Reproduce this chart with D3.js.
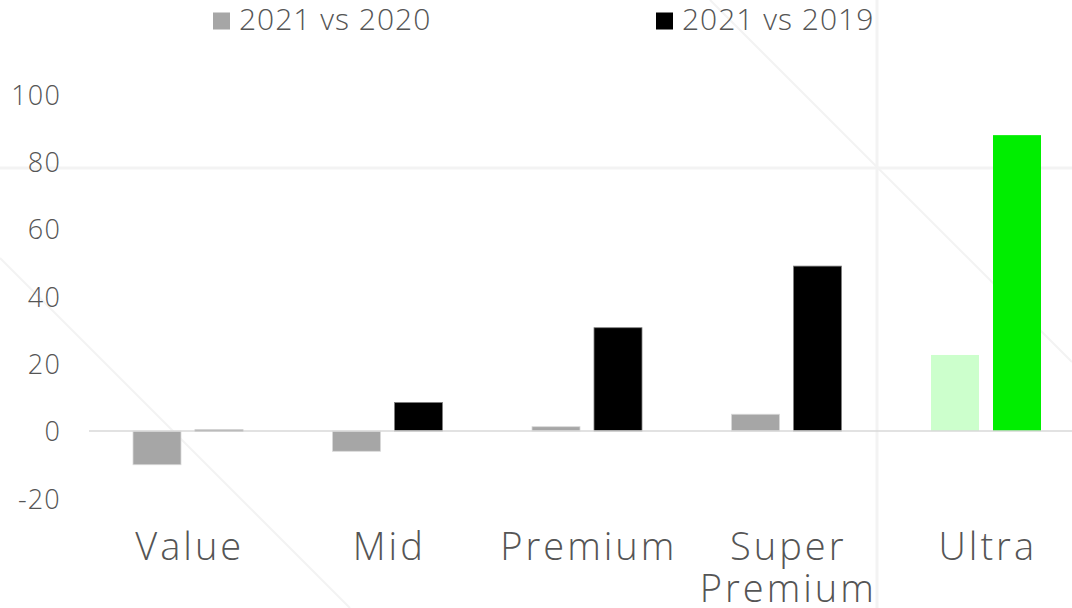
<!DOCTYPE html>
<html>
<head>
<meta charset="utf-8">
<script src="https://cdn.jsdelivr.net/npm/d3@7"></script>
<style>
  html, body { margin: 0; padding: 0; background: #ffffff; }
  svg { display: block; }
  text { font-family: "Open Sans", "Lato", sans-serif; font-weight: 300; fill: #555555; }
</style>
</head>
<body>
<svg id="chart" width="1072" height="608"></svg>
<script>
// Price tier growth (%) by comparison period
const categories = ["Value", "Mid", "Premium", "Super Premium", "Ultra"];
const seriesNames = ["2021 vs 2020", "2021 vs 2019"];
const vs2020 = [-10, -6, 1.3, 5, 22.6];
const vs2019 = [0.3, 8.5, 30.7, 49, 87.9];
const yTicks = [-20, 0, 20, 40, 60, 80, 100];

const seriesColors = ["#a6a6a6", "#000000"];
const seriesStroke = ["#d9d9d9", "#7f7f7f"];
const highlightCategory = "Ultra";
const highlightColors = ["#ccffcc", "#00ee00"];

const W = 1072, H = 608;
const svg = d3.select("#chart");

// faint background guides
const bg = svg.append("g").attr("stroke", "#f3f3f3").attr("fill", "none");
bg.append("line").attr("x1", 0).attr("x2", W).attr("y1", 168).attr("y2", 168).attr("stroke-width", 3);
bg.append("line").attr("x1", 877).attr("x2", 877).attr("y1", 0).attr("y2", H).attr("stroke-width", 3);
bg.append("line").attr("x1", 710).attr("y1", 0).attr("x2", 1072).attr("y2", 362).attr("stroke-width", 2);
bg.append("line").attr("x1", 0).attr("y1", 258).attr("x2", 350).attr("y2", 608).attr("stroke-width", 2);

const x = d3.scaleBand().domain(categories).range([88.5, 1086]).paddingInner(0).paddingOuter(0);
const xInner = d3.scaleBand().domain(seriesNames).range([44.5, 154.5]).paddingInner(14 / 62).paddingOuter(0);
const y = d3.scaleLinear().domain([-20, 100]).range([498.4, 94.4]);

const rows = categories.map((c, i) => ({ cat: c, values: [vs2020[i], vs2019[i]] }));

// bars
const groups = svg.append("g").selectAll("g").data(rows).join("g")
  .attr("transform", d => `translate(${x(d.cat)},0)`);
groups.selectAll("rect")
  .data(d => d.values.map((v, k) => ({ cat: d.cat, s: seriesNames[k], k, v })))
  .join("rect")
  .attr("x", d => xInner(d.s))
  .attr("width", xInner.bandwidth())
  .attr("y", d => y(Math.max(0, d.v)))
  .attr("height", d => Math.max(1, Math.abs(y(d.v) - y(0))))
  .attr("fill", d => d.cat === highlightCategory ? highlightColors[d.k] : seriesColors[d.k])
  .attr("stroke", d => d.cat === highlightCategory ? "none" : seriesStroke[d.k])
  .attr("stroke-width", 0.8);

// zero baseline
svg.append("line")
  .attr("x1", 89).attr("x2", W)
  .attr("y1", y(0)).attr("y2", y(0))
  .attr("stroke", "#d9d9d9").attr("stroke-width", 1.5);

// y axis labels (plain hyphen for negatives)
const yAxis = d3.axisLeft(y).tickValues(yTicks).tickSize(0).tickPadding(0)
  .tickFormat(d => String(d));
const yg = svg.append("g").attr("transform", "translate(61,0)").call(yAxis);
yg.select(".domain").remove();
yg.selectAll("text")
  .attr("font-size", 27).attr("letter-spacing", 1.2)
  .style("font-family", '"Open Sans", sans-serif').style("font-weight", 300)
  .attr("fill", "#555555")
  .attr("dy", "0.36em");

// category labels
const xAxis = d3.axisBottom(x).tickSize(0).tickPadding(0).tickFormat("");
const xg = svg.append("g").call(xAxis);
xg.select(".domain").remove();
xg.selectAll(".tick").each(function(d) {
  const words = d.split(" ");
  const t = d3.select(this).append("text")
    .attr("text-anchor", "middle")
    .attr("font-size", 38).attr("letter-spacing", 3)
    .style("font-family", '"Open Sans", sans-serif').style("font-weight", 300)
    .attr("fill", "#555555");
  words.forEach((w, i) => {
    t.append("tspan").attr("x", 1.5).attr("y", 560 + i * 42).text(w);
  });
});

// legend
const legendX = [213, 656];
const legend = svg.append("g").selectAll("g").data(seriesNames).join("g")
  .attr("transform", (d, i) => `translate(${legendX[i]},0)`);
legend.append("rect").attr("x", 0).attr("y", 12.5).attr("width", 17).attr("height", 17)
  .attr("fill", (d, i) => seriesColors[i]);
legend.append("text").attr("x", 26).attr("y", 30)
  .attr("font-size", 30).attr("letter-spacing", 1)
  .text(d => d);
</script>
</body>
</html>
